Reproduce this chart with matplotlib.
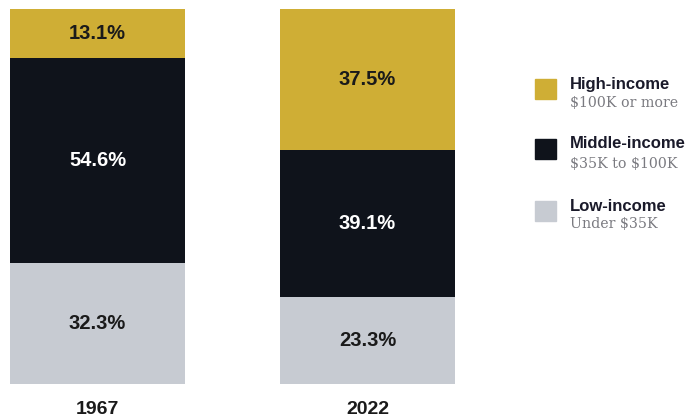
import matplotlib
matplotlib.use("Agg")
import matplotlib.pyplot as plt
import numpy as np

years = ["1967", "2022"]
low = [32.3, 23.3]
middle = [54.6, 39.1]
high = [13.1, 37.5]
series_names = ["Low-income", "Middle-income", "High-income"]
series_sub = ["Under \\$35K", "\\$35K to \\$100K", "\\$100K or more"]
colors = ["#C7CBD2", "#0F131B", "#CFAE35"]
text_colors = ["#1a1a1a", "white", "#1a1a1a"]

W, H = 696, 417
fig = plt.figure(figsize=(W/100, H/100), dpi=100)
ax = fig.add_axes([0, 0, 1, 1])
ax.set_axis_off()
unit = 270.0
ax.set_xlim(-97.5/unit, (W-97.5)/unit)
ax.set_ylim(-33/3.75, (H-33)/3.75)

x = np.arange(len(years))
bw = 175/unit
bottom = np.zeros(len(years))
for vals, c, tc in zip([low, middle, high], colors, text_colors):
    vals = np.array(vals)
    ax.bar(x, vals, bw, bottom=bottom, color=c, edgecolor="none")
    for xi, b, v in zip(x, bottom, vals):
        ax.text(xi, b + v/2, f"{v:.1f}%", ha="center", va="center",
                color=tc, fontsize=14.5, fontweight="bold", family="Liberation Sans")
    bottom += vals

for xi, yr in zip(x, years):
    ax.text(xi, -33/3.75 + (H - 409)/3.75, yr, ha="center", va="center",
            fontsize=14, fontweight="bold", family="Liberation Sans", color="#1a1a1a")

def fy(py):
    return 1 - py / H

tops = [79, 139, 201]
title_y = [84, 143, 206]
sub_y = [103, 164, 224]
order = [2, 1, 0]
for k, i in enumerate(order):
    fig.patches.append(plt.Rectangle((535/W, fy(tops[k] + 20)), 21/W, 20/H,
                                     transform=fig.transFigure, color=colors[i], figure=fig))
    fig.text(570/W, fy(title_y[k]), series_names[i], ha="left", va="center", fontsize=12,
             fontweight="bold", family="Liberation Sans", color="#1a1a2a")
    fig.text(570/W, fy(sub_y[k]), series_sub[i], ha="left", va="center", fontsize=10.2,
             family="DejaVu Serif", color="#7a7a80")

fig.savefig("out.png", dpi=100)
